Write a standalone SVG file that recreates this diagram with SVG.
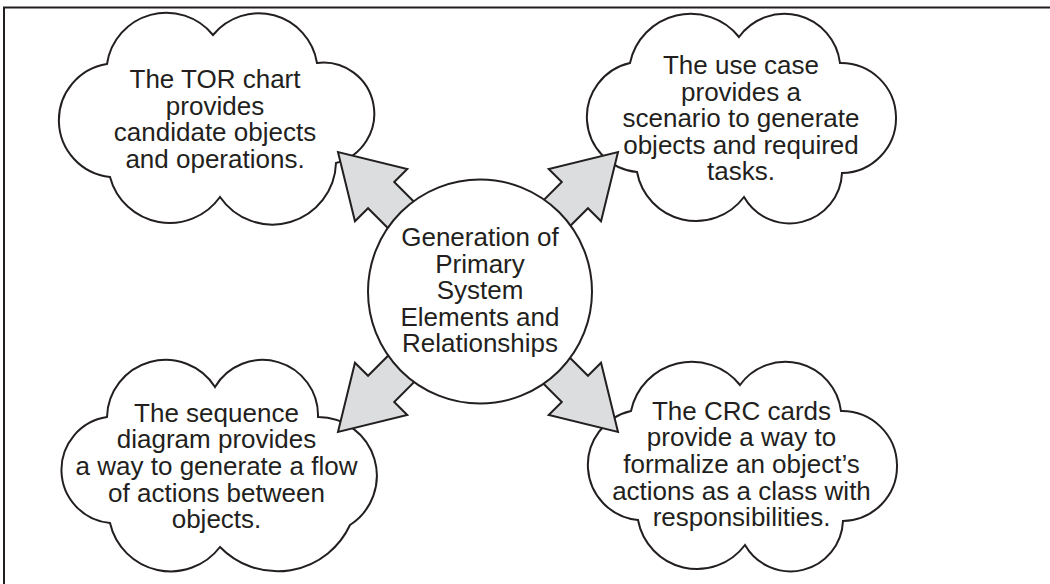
<svg xmlns="http://www.w3.org/2000/svg" width="1050" height="584" viewBox="0 0 1050 584">
<defs>
<style>
.frame{fill:none;stroke:#231f20;stroke-width:2}
.cloud{fill:#ffffff;stroke:#231f20;stroke-width:2;stroke-linejoin:miter}
.hub{fill:#ffffff;stroke:#231f20;stroke-width:2}
.arrow{fill:#dcdddf;stroke:#231f20;stroke-width:2;stroke-linejoin:miter}
.lbl{font-family:"Liberation Sans",Arial,Helvetica,sans-serif;font-size:26px;fill:#231f20;text-anchor:middle}
</style>
<path id="arrowShape" d="M 80 -18.5 H 137 V -37 L 198 0 L 137 37 V 18.5 H 80 Z"/>
</defs>
<rect x="0" y="0" width="1050" height="584" fill="#ffffff"/>
<g id="frame">
<path class="frame" d="M 4 590 V 7.5 H 1060"/>
</g>
<g id="node-tor">
<path class="cloud" d="M 107 64 A 60 60 0 0 1 213 35 A 59 59 0 0 1 317 63 A 51 51 0 0 1 336 163 A 63.6 63.6 0 0 1 220 197 A 61.7 61.7 0 0 1 110 177 A 57 57 0 0 1 107 64 Z"/>
<text class="lbl"><tspan x="215" y="88">The TOR chart</tspan><tspan x="215" y="114.5">provides</tspan><tspan x="215" y="141">candidate objects</tspan><tspan x="215" y="167.5">and operations.</tspan></text>
</g>
<g id="node-usecase">
<path class="cloud" d="M 630 63 A 62 62 0 0 1 739 37 A 56 56 0 0 1 840 63 A 55 55 0 0 1 842 173 A 52.5 52.5 0 0 1 744 197 A 60 60 0 0 1 637 172 A 55.3 55.3 0 0 1 630 63 Z"/>
<text class="lbl"><tspan x="741" y="74">The use case</tspan><tspan x="741" y="100.5">provides a</tspan><tspan x="741" y="127">scenario to generate</tspan><tspan x="741" y="153.5">objects and required</tspan><tspan x="741" y="180">tasks.</tspan></text>
</g>
<g id="node-sequence">
<path class="cloud" d="M 107 417 A 58.6 58.6 0 0 1 215 387 A 55.4 55.4 0 0 1 318 417 A 58.7 58.7 0 0 1 350 525 A 80 80 0 0 1 220 547 A 62.2 62.2 0 0 1 110 523 A 53.4 53.4 0 0 1 107 417 Z"/>
<text class="lbl"><tspan x="216.5" y="421.5">The sequence</tspan><tspan x="216.5" y="448.2">diagram provides</tspan><tspan x="216.5" y="474.9">a way to generate a flow</tspan><tspan x="216.5" y="501.6">of actions between</tspan><tspan x="216.5" y="528.3">objects.</tspan></text>
</g>
<g id="node-crc">
<path class="cloud" d="M 631 411 A 62 62 0 0 1 740 385 A 56 56 0 0 1 841 411 A 55 55 0 0 1 843 521 A 52.5 52.5 0 0 1 745 545 A 60 60 0 0 1 638 520 A 55.3 55.3 0 0 1 631 411 Z"/>
<text class="lbl"><tspan x="741.5" y="419.5">The CRC cards</tspan><tspan x="741.5" y="446.2">provide a way to</tspan><tspan x="741.5" y="472.9">formalize an object’s</tspan><tspan x="741.5" y="499.6">actions as a class with</tspan><tspan x="741.5" y="526.3">responsibilities.</tspan></text>
</g>
<g id="connectors">
<use href="#arrowShape" class="arrow" transform="translate(478 292) rotate(225)"/>
<use href="#arrowShape" class="arrow" transform="translate(478 292) rotate(315)"/>
<use href="#arrowShape" class="arrow" transform="translate(478 292) rotate(135)"/>
<use href="#arrowShape" class="arrow" transform="translate(478 292) rotate(45)"/>
</g>
<g id="node-center">
<circle class="hub" cx="480" cy="291.5" r="112"/>
<text class="lbl"><tspan x="480" y="246">Generation of</tspan><tspan x="480" y="272.5">Primary</tspan><tspan x="480" y="299">System</tspan><tspan x="480" y="325.5">Elements and</tspan><tspan x="480" y="352">Relationships</tspan></text>
</g>
</svg>
